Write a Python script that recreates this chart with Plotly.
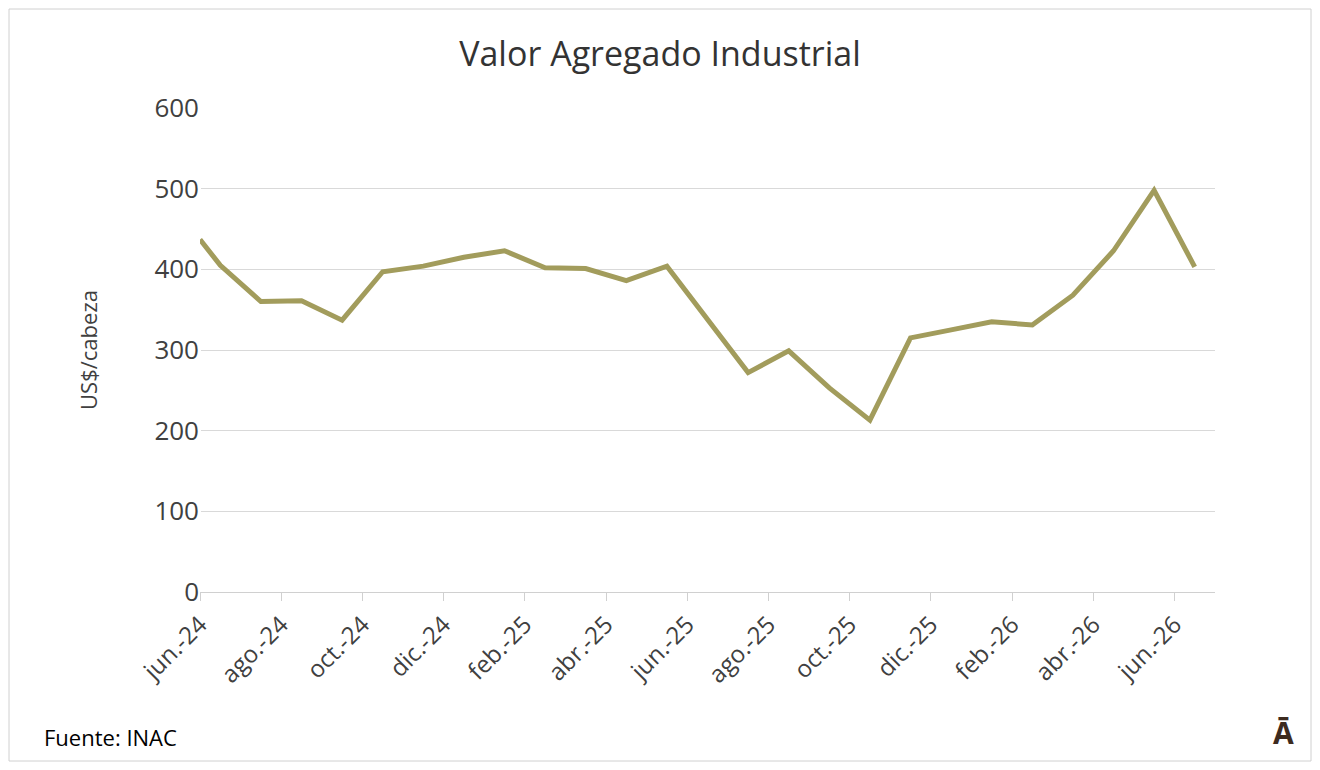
import plotly.graph_objects as go

tick_labels = ["jun.-24","ago.-24","oct.-24","dic.-24","feb.-25","abr.-25","jun.-25",
               "ago.-25","oct.-25","dic.-25","feb.-26","abr.-26","jun.-26"]
tick_pos = [0,2,4,6,8,10,12,14,16,18,20,22,24]
# month index (0 = jun-24); points at mid-month
x_months = [0] + [k + 0.5 for k in range(25)]
values = [437, 405, 360, 361, 337, 397, 404, 415, 423, 402, 401, 386, 404,
          338, 272, 299, 253, 213, 315, 325, 335, 331, 368, 423, 498, 403]

fig = go.Figure(go.Scatter(x=x_months, y=values, mode="lines",
                           line=dict(color="#A29C5C", width=5), hoverinfo="skip"))
font = "Open Sans, Liberation Sans, sans-serif"
fig.update_layout(
    width=1304, height=754, paper_bgcolor="white", plot_bgcolor="white",
    margin=dict(l=192, r=97, t=100, b=170),
    title=dict(text="Valor Agregado Industrial", x=0.5, xanchor="center", y=0.955,
               font=dict(family=font, size=34, color="#333")),
    showlegend=False,
    xaxis=dict(range=[0, 25], tickvals=tick_pos, ticktext=tick_labels, tickangle=-45,
               showgrid=False, showline=True, linecolor="#d0d0d0", ticks="outside",
               ticklen=8, tickcolor="#d0d0d0", tickfont=dict(family=font, size=24, color="#404040")),
    yaxis=dict(range=[0, 600], dtick=100, showgrid=True, gridcolor="#d9d9d9", zeroline=False,
               title=dict(text="US$/cabeza", font=dict(family=font, size=22, color="#404040"), standoff=50),
               tickfont=dict(family=font, size=26, color="#404040")),
    shapes=[dict(type="rect", xref="paper", yref="paper", x0=-191/1015, x1=1+96/1015,
                 y0=-169/484, y1=1+99/484, line=dict(color="#d0d0d0", width=1))],
    annotations=[
        dict(text="Fuente: INAC", xref="paper", yref="paper", x=-158/1015, y=-145/484,
             xanchor="left", yanchor="middle", showarrow=False,
             font=dict(family=font, size=22, color="black")),
        dict(text="<b>Ā</b>", xref="paper", yref="paper", x=1+68/1015, y=-140/484,
             xanchor="center", yanchor="middle", showarrow=False,
             font=dict(family=font, size=30, color="#3d2b1f")),
    ],
)
fig.write_html("out.html")
